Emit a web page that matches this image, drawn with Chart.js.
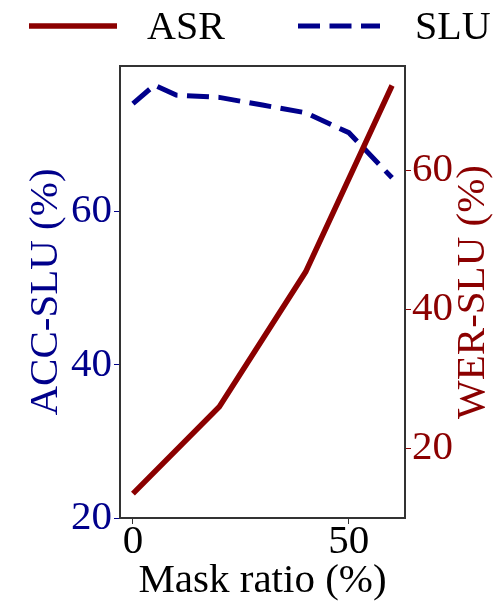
<!DOCTYPE html>
<html>

<head>
  <title>Mask ratio chart</title>
  <script src="https://cdn.jsdelivr.net/npm/chart.js"></script>
  <style type="text/css">
    body {
      margin: 0;
      background: #fff;
    }
  </style>
</head>

<body>
  <canvas id="myChart" width="495" height="603"></canvas>

  <script>
    // data
    const maskRatio = [0, 5, 10, 20, 30, 40, 50, 60];
    const sluAcc = [74.1, 76.5, 75.2, 74.9, 73.9, 72.9, 70.3, 64.4];
    const asrRatio = [0, 20, 40, 60];
    const asrWer = [13.5, 26.0, 45.4, 72.2];
    const xTicks = [0, 50];
    const accTicks = [20, 40, 60];
    const werTicks = [20, 40, 60];

    const BLUE = '#00008B';
    const RED = '#8B0000';
    const FONT = "'Liberation Serif', 'Times New Roman', serif";

    // frame around the plot
    const framePlugin = {
      id: 'frame',
      afterDatasetsDraw(chart) {
        const a = chart.chartArea;
        const ctx = chart.ctx;
        ctx.save();
        ctx.strokeStyle = '#333';
        ctx.lineWidth = 2;
        ctx.strokeRect(a.left, a.top, a.right - a.left, a.bottom - a.top);
        ctx.restore();
      }
    };

    // right axis title reads bottom to top, like the left one
    const rightTitlePlugin = {
      id: 'rightTitle',
      afterDraw(chart) {
        const a = chart.chartArea;
        const ctx = chart.ctx;
        ctx.save();
        ctx.translate(473.5, (a.top + a.bottom) / 2);
        ctx.rotate(-Math.PI / 2);
        ctx.font = '41px ' + FONT;
        ctx.fillStyle = RED;
        ctx.textAlign = 'center';
        ctx.textBaseline = 'middle';
        ctx.fillText('WER-SLU (%)', 0, 0);
        ctx.restore();
      }
    };

    // legend above the plot, line samples like matplotlib
    const legendPlugin = {
      id: 'lineLegend',
      afterDraw(chart) {
        const ctx = chart.ctx;
        const spots = [{ x: 29, w: 88, tx: 147 }, { x: 298, w: 82, tx: 415 }];
        ctx.save();
        ctx.font = '40px ' + FONT;
        ctx.textBaseline = 'middle';
        chart.data.datasets.forEach(function (ds, i) {
          const s = spots[i];
          ctx.strokeStyle = ds.borderColor;
          ctx.lineWidth = ds.borderWidth;
          ctx.setLineDash(ds.borderDash || []);
          ctx.beginPath();
          ctx.moveTo(s.x, 26);
          ctx.lineTo(s.x + s.w, 26);
          ctx.stroke();
          ctx.setLineDash([]);
          ctx.fillStyle = '#000';
          ctx.fillText(ds.label, s.tx, 28);
        });
        ctx.restore();
      }
    };

    var ctx = document.getElementById('myChart').getContext('2d');
    var myChart = new Chart(ctx, {
      type: 'line',
      data: {
        datasets: [{
          label: 'ASR',
          data: asrRatio.map((x, i) => ({ x: x, y: asrWer[i] })),
          borderColor: RED,
          borderWidth: 5.5,
          yAxisID: 'yWer',
          pointRadius: 0,
          tension: 0
        }, {
          label: 'SLU',
          data: maskRatio.map((x, i) => ({ x: x, y: sluAcc[i] })),
          borderColor: BLUE,
          borderWidth: 5,
          borderDash: [22, 9.5],
          yAxisID: 'yAcc',
          pointRadius: 0,
          tension: 0
        }]
      },
      options: {
        responsive: false,
        animation: false,
        layout: { padding: { top: 66, left: 0, right: 0, bottom: 0 } },
        plugins: {
          legend: { display: false },
          tooltip: { enabled: false }
        },
        scales: {
          x: {
            type: 'linear',
            min: -3,
            max: 63,
            afterBuildTicks: s => { s.ticks = xTicks.map(v => ({ value: v })); },
            afterFit: s => { s.height = 85; },
            grid: { drawOnChartArea: false, tickLength: 6, color: '#333' },
            border: { display: false },
            ticks: { color: '#000', padding: 0, maxRotation: 0, font: { family: FONT, size: 41, lineHeight: 0.9 } },
            title: { display: true, text: 'Mask ratio (%)', color: '#000', padding: { top: 0, bottom: 1 }, font: { family: FONT, size: 41, lineHeight: 1 } }
          },
          yAcc: {
            position: 'left',
            min: 20,
            max: 79,
            afterBuildTicks: s => { s.ticks = accTicks.map(v => ({ value: v })); },
            afterFit: s => { s.width = 120; },
            grid: { drawOnChartArea: false, tickLength: 6, color: BLUE },
            border: { display: false },
            ticks: { color: BLUE, padding: 2, font: { family: FONT, size: 41, lineHeight: 1 } },
            title: { display: true, text: 'ACC-SLU (%)', color: BLUE, padding: { top: 26, bottom: 0 }, font: { family: FONT, size: 41, lineHeight: 1 } }
          },
          yWer: {
            position: 'right',
            min: 10,
            max: 75,
            afterBuildTicks: s => { s.ticks = werTicks.map(v => ({ value: v })); },
            afterFit: s => { s.width = 90; },
            grid: { drawOnChartArea: false, tickLength: 6, color: RED },
            border: { display: false },
            ticks: { color: RED, padding: 1, font: { family: FONT, size: 41, lineHeight: 1 } }
          }
        }
      },
      plugins: [framePlugin, rightTitlePlugin, legendPlugin]
    });
  </script>
</body>

</html>
